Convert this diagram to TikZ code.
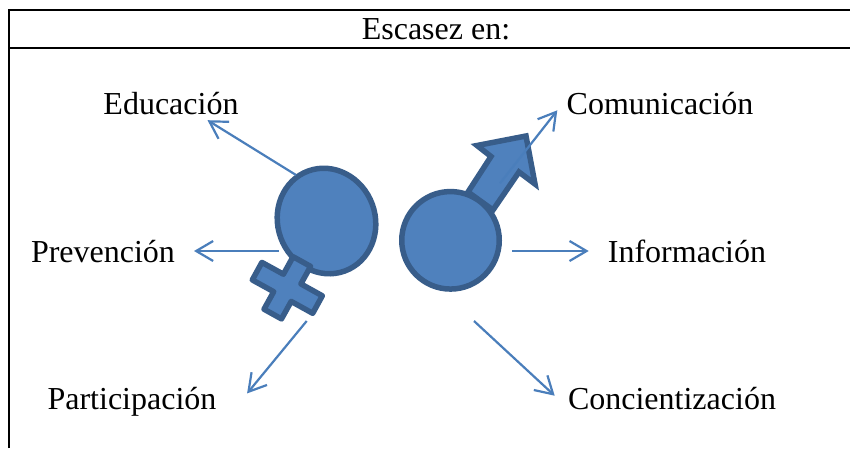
\documentclass[tikz,border=0pt]{standalone}
\usepackage{fontspec}
\setmainfont{Liberation Serif}
\usetikzlibrary{arrows.meta,shapes.geometric}
\definecolor{fillb}{HTML}{4F81BD}
\definecolor{edgeb}{HTML}{385D8A}
\definecolor{arrowb}{HTML}{4A7EBB}
\tikzset{
  x=1pt,y=-1pt,
  rule/.style={black,line width=2pt},
  lab/.style={font=\fontsize{32}{36}\selectfont,inner sep=0pt,text=black,anchor=base},
  sym/.style={draw=edgeb,fill=fillb,line width=5.5pt},
  head/.style={sym,inner sep=0pt,outer sep=0pt},
  ray/.style={arrowb,line width=2.2pt,-{Straight Barb[length=17pt,width=20pt,line width=2.2pt]}}
}
\begin{document}
\begin{tikzpicture}
\useasboundingbox (0,0) rectangle (850,448);
\fill[white] (0,0) rectangle (850,448);
\draw[rule] (9,448) -- (9,10) -- (850,10);
\draw[rule] (9,48) -- (850,48);
\node[lab] (title) at (436,39) {Escasez en:};
\node[lab] (edu) at (171,114) {Educación};
\node[lab] (pre) at (103,262) {Prevención};
\node[lab] (par) at (132,409) {Participación};
\node[lab] (com) at (660,114) {Comunicación};
\node[lab] (inf) at (687,262) {Información};
\node[lab] (con) at (672,409) {Concientización};
% female symbol
\node[head,ellipse,minimum width=97.5pt,minimum height=106.5pt,rotate=20] (fem) at (326.5,221) {};
\draw[sym,line join=round] (293.1,256.7) -- (310.6,266.4) -- (300.9,283.9) -- (322.3,295.8) -- (312.7,313.3) -- (291.2,301.4) -- (281.5,318.9) -- (264,309.2) -- (273.7,291.7) -- (252.3,279.9) -- (261.9,262.4) -- (283.4,274.2) -- cycle;
% male symbol
\draw[sym,line join=miter,miter limit=10] (468,192) -- (491,156.5) -- (477,145.5) -- (526,136) -- (535,184) -- (519,172) -- (493,210) -- cycle;
\node[head,circle,minimum size=97.5pt] (mal) at (450.5,240.3) {};
% rays
\coordinate (e0) at (296,175); \coordinate (e1) at (207.5,120.2);
\coordinate (p0) at (278.7,251); \coordinate (p1) at (194,251);
\coordinate (a0) at (306.7,321); \coordinate (a1) at (247.1,393.4);
\coordinate (c0) at (500,183.3); \coordinate (c1) at (557.3,110.3);
\coordinate (i0) at (512.3,251); \coordinate (i1) at (588.7,251);
\coordinate (n0) at (474,321); \coordinate (n1) at (554.7,395.7);
\draw[ray] (e0) -- (e1);
\draw[ray] (p0) -- (p1);
\draw[ray] (a0) -- (a1);
\draw[ray] (c0) -- (c1);
\draw[ray] (i0) -- (i1);
\draw[ray] (n0) -- (n1);
\end{tikzpicture}
\end{document}
